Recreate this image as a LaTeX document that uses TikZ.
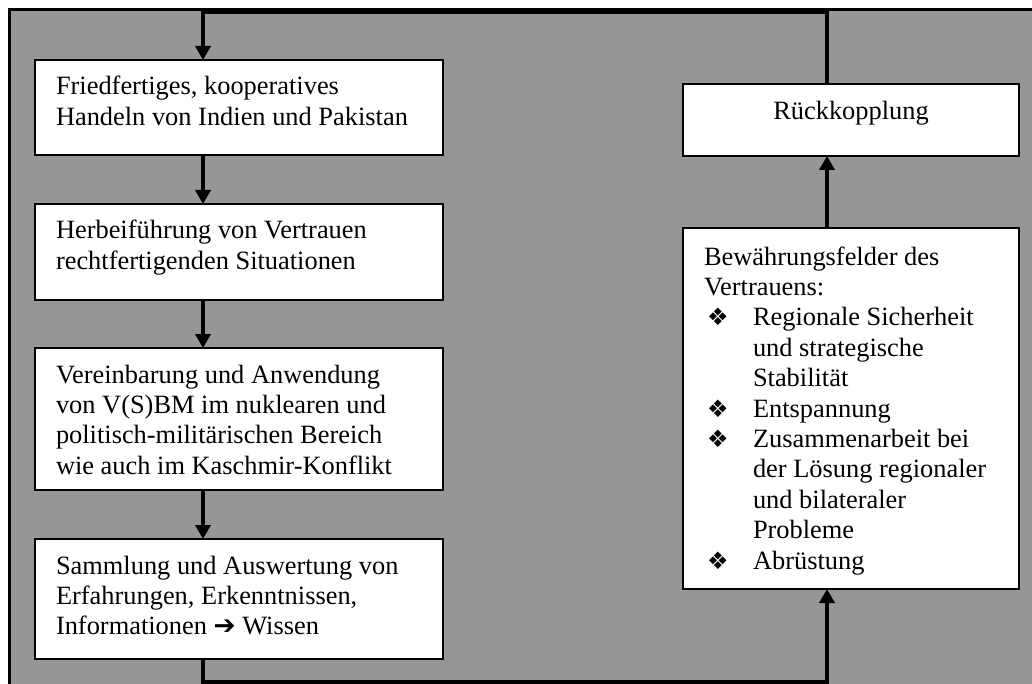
\documentclass[tikz,border=0pt]{standalone}
\usepackage{fontspec}
\setmainfont{Liberation Serif}
\newfontfamily\symfont{DejaVu Sans}
\usepackage{tikz}
\usetikzlibrary{positioning, calc, arrows.meta}
\definecolor{bggray}{RGB}{150,150,150}
\newcommand{\bul}{\makebox[24.5pt][l]{\hspace{1.5pt}{\symfont\fontsize{12}{12}\selectfont ❖}}}
\newcommand{\ind}{\hspace*{24.5pt}}

\begin{document}
\begin{tikzpicture}[
    x=0.5pt, y=-0.5pt,
    box/.style={rectangle, draw=black, fill=white, line width=1pt, inner xsep=10.5pt, inner ysep=0pt, outer sep=0pt, anchor=north west, text height=17.5pt, font=\fontsize{13.2}{15.2}\selectfont},
    arrow/.style={-{Triangle[width=7.5pt,length=7pt]}, line width=2pt}
]

% Frame
\clip (0,0) rectangle (1032,684);
\fill[white] (0,0) rectangle (1032,684);
\draw[fill=bggray, line width=1.5pt] (9.5,9.5) rectangle (1100,760);

% Left column
\node[box, minimum width=204pt, text depth=30pt] (peace) at (35,60) {\parbox[t]{183pt}{Friedfertiges, kooperatives\\Handeln von Indien und Pakistan}};
\node[box, minimum width=204pt, text depth=30.5pt] (trust) at (35,204) {\parbox[t]{183pt}{Herbeiführung von Vertrauen\\rechtfertigenden Situationen}};
\node[box, minimum width=204pt, text depth=53.5pt] (cbm) at (35,348) {\parbox[t]{183pt}{Vereinbarung und Anwendung\\von V(S)BM im nuklearen und\\politisch-militärischen Bereich\\wie auch im Kaschmir-Konflikt}};
\node[box, minimum width=204pt, text depth=42.5pt] (knowledge) at (35,539) {\parbox[t]{183pt}{Sammlung und Auswertung von\\Erfahrungen, Erkenntnissen,\\Informationen {\symfont\bfseries ➔} Wissen}};

% Right column
\node[box, minimum width=168pt, text height=18pt, text depth=18pt] (feedback) at (683,84) {Rückkopplung};
\node[box, minimum width=168pt, text height=18.5pt, text depth=162pt] (fields) at (683,228) {\parbox[t]{147pt}{Bewährungsfelder des\\Vertrauens:\\\bul Regionale Sicherheit\\\ind und strategische\\\ind Stabilität\\\bul Entspannung\\\bul Zusammenarbeit bei\\\ind der Lösung regionaler\\\ind und bilateraler\\\ind Probleme\\\bul Abrüstung}};

% Line positions
\coordinate (lx) at (203,0);
\coordinate (rx) at (827,0);
\coordinate (top) at (0,12.5);
\coordinate (bot) at (0,682);

% Arrows
\draw[arrow] (peace.south -| lx) -- (trust.north -| lx);
\draw[arrow] (trust.south -| lx) -- (cbm.north -| lx);
\draw[arrow] (cbm.south -| lx) -- (knowledge.north -| lx);
\draw[arrow] (knowledge.south -| lx) -- (lx |- bot) -| (fields.south -| rx);
\draw[arrow] (fields.north -| rx) -- (feedback.south -| rx);
\draw[arrow] (feedback.north -| rx) -- (rx |- top) -| (peace.north -| lx);

\end{tikzpicture}
\end{document}
